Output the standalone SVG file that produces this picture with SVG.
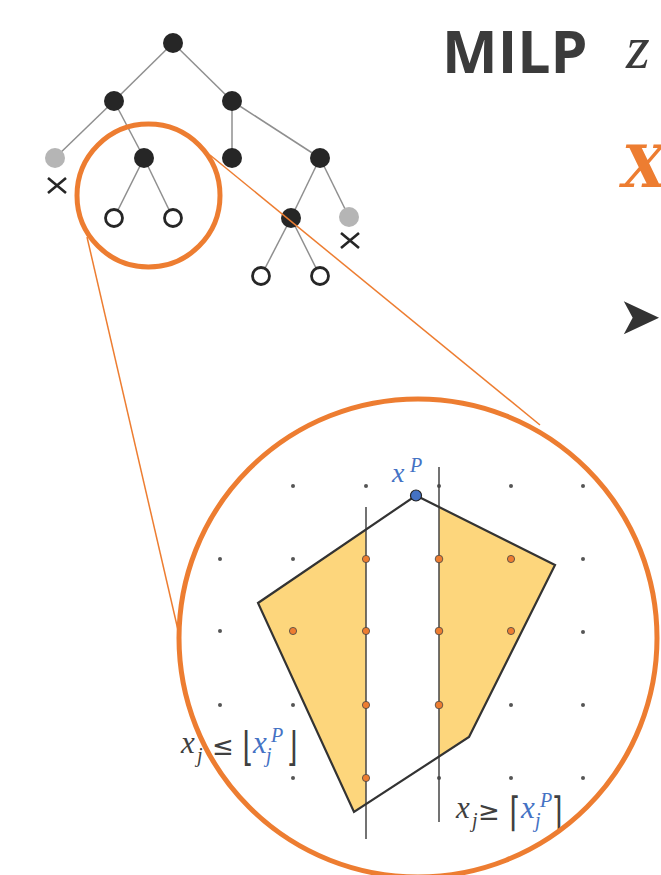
<svg xmlns="http://www.w3.org/2000/svg" width="661" height="875" viewBox="0 0 661 875">
<style>
.edge{stroke:#8f8f8f;stroke-width:1.5;fill:none}
.bn{fill:#262626}
.gn{fill:#b5b5b5}
.on{fill:#fff;stroke:#262626;stroke-width:2.8}
.cross{stroke:#262626;stroke-width:2.6;fill:none}
.zoomc{fill:none;stroke:#ED7D31;stroke-width:5}
.zl{stroke:#ED7D31;stroke-width:1.5;fill:none}
.gd{fill:#555}
.od{fill:#ED7D31;stroke:#444;stroke-width:0.8}
.vl{stroke:#444;stroke-width:1.5}
.fillr{fill:#FDD67C;stroke:none}
.poly{fill:none;stroke:#333;stroke-width:2.2;stroke-linejoin:miter}
.m{font-family:"Liberation Serif","DejaVu Serif",serif;font-style:italic}
.g{fill:#404040}
.b{fill:#4472C4}
.br{font-family:"DejaVu Sans",sans-serif;font-style:normal;fill:#404040}
</style>
<rect width="661" height="875" fill="#fff"/>

<g id="connectors">
  <line class="edge" x1="173" y1="43" x2="114" y2="101"/>
  <line class="edge" x1="173" y1="43" x2="232" y2="101"/>
  <line class="edge" x1="114" y1="101" x2="55" y2="158"/>
  <line class="edge" x1="114" y1="101" x2="144" y2="158"/>
  <line class="edge" x1="144" y1="158" x2="114" y2="218"/>
  <line class="edge" x1="144" y1="158" x2="173" y2="218"/>
  <line class="edge" x1="232" y1="101" x2="232" y2="158"/>
  <line class="edge" x1="232" y1="101" x2="320" y2="158"/>
  <line class="edge" x1="320" y1="158" x2="291" y2="218"/>
  <line class="edge" x1="320" y1="158" x2="349" y2="217"/>
  <line class="edge" x1="291" y1="218" x2="261" y2="276"/>
  <line class="edge" x1="291" y1="218" x2="320" y2="276"/>
</g>

<g id="tree-nodes">
  <g id="n-root"><circle class="bn" cx="173" cy="43" r="10"/></g>
  <g id="n-l"><circle class="bn" cx="114" cy="101" r="10"/></g>
  <g id="n-r"><circle class="bn" cx="232" cy="101" r="10"/></g>
  <g id="n-ll"><circle class="gn" cx="55" cy="158" r="10"/><path class="cross" d="M48,178 L66,193 M66,178 L48,193"/></g>
  <g id="n-lr"><circle class="bn" cx="144" cy="158" r="10"/></g>
  <g id="n-rl"><circle class="bn" cx="232" cy="158" r="10"/></g>
  <g id="n-rr"><circle class="bn" cx="320" cy="158" r="10"/></g>
  <g id="n-lrl"><circle class="on" cx="114" cy="218" r="8.5"/></g>
  <g id="n-lrr"><circle class="on" cx="173" cy="218" r="8.5"/></g>
  <g id="n-rrl"><circle class="bn" cx="291" cy="218" r="10"/></g>
  <g id="n-rrr"><circle class="gn" cx="349" cy="217" r="10"/><path class="cross" d="M341,233 L359,248 M359,233 L341,248"/></g>
  <g id="n-rrll"><circle class="on" cx="261" cy="276" r="8.5"/></g>
  <g id="n-rrlr"><circle class="on" cx="320" cy="276" r="8.5"/></g>
</g>

<g id="zoom-lines">
  <line class="zl" x1="87" y1="237" x2="178" y2="630"/>
  <line class="zl" x1="210" y1="155" x2="540" y2="425"/>
</g>

<g id="zoom-small"><circle class="zoomc" cx="148.5" cy="195.5" r="71.5"/></g>

<g id="lp-view">
  <polygon class="fillr" points="366,529 258,603 354,812 366,804"/>
  <polygon class="fillr" points="439,507 555,565 469,737 439,757"/>
  <g id="grid">
    <circle class="gd" cx="293" cy="486" r="2"/><circle class="gd" cx="366" cy="486" r="2"/><circle class="gd" cx="439" cy="486" r="2"/><circle class="gd" cx="511" cy="486" r="2"/><circle class="gd" cx="583" cy="486" r="2"/>
    <circle class="gd" cx="220" cy="559" r="2"/><circle class="gd" cx="293" cy="559" r="2"/><circle class="gd" cx="583" cy="559" r="2"/>
    <circle class="gd" cx="220" cy="631" r="2"/><circle class="gd" cx="583" cy="632" r="2"/>
    <circle class="gd" cx="220" cy="705" r="2"/><circle class="gd" cx="293" cy="705" r="2"/><circle class="gd" cx="511" cy="705" r="2"/><circle class="gd" cx="583" cy="705" r="2"/>
    <circle class="gd" cx="293" cy="778" r="2"/><circle class="gd" cx="439" cy="778" r="2"/><circle class="gd" cx="511" cy="778" r="2"/><circle class="gd" cx="583" cy="778" r="2"/>
  </g>
  <line class="vl" x1="366" y1="507" x2="366" y2="839"/>
  <line class="vl" x1="439" y1="467" x2="439" y2="822"/>
  <polygon class="poly" points="416,495.5 555,565 469,737 354,812 258,603"/>
  <g id="int-points">
    <circle class="od" cx="366" cy="559" r="3.6"/><circle class="od" cx="439" cy="559" r="3.8"/><circle class="od" cx="511" cy="559" r="3.6"/>
    <circle class="od" cx="293" cy="631" r="3.6"/><circle class="od" cx="366" cy="631" r="3.6"/><circle class="od" cx="439" cy="631" r="3.8"/><circle class="od" cx="511" cy="631" r="3.6"/>
    <circle class="od" cx="366" cy="705" r="3.6"/><circle class="od" cx="439" cy="705" r="3.8"/>
    <circle class="od" cx="366" cy="778" r="3.6"/>
  </g>
  <g id="xP"><circle cx="416" cy="495.5" r="5.5" fill="#4472C4" stroke="#222" stroke-width="1.2"/>
    <text class="m b" x="392" y="482" font-size="28">x</text><text class="m b" x="410" y="472" font-size="20">P</text></g>
  <g id="label-le">
    <text class="m g" x="181" y="753" font-size="31">x</text>
    <text class="m g" x="197" y="762" font-size="20">j</text>
    <text class="br" x="212" y="755" font-size="26">≤</text>
    <text class="br" transform="translate(242.5,761) scale(1,1.45)" font-size="28">⌊</text>
    <text class="m b" x="253" y="753" font-size="31">x</text>
    <text class="m b" x="271" y="742" font-size="20">P</text>
    <text class="m b" x="266" y="762" font-size="20">j</text>
    <text class="br" transform="translate(286.5,761) scale(1,1.45)" font-size="28">⌋</text>
  </g>
  <g id="label-ge">
    <text class="m g" x="456" y="818" font-size="31">x</text>
    <text class="m g" x="472" y="827" font-size="20">j</text>
    <text class="br" x="478" y="820" font-size="26">≥</text>
    <text class="br" transform="translate(509.5,826) scale(1,1.45)" font-size="28">⌈</text>
    <text class="m b" x="521" y="818" font-size="31">x</text>
    <text class="m b" x="540" y="807" font-size="20">P</text>
    <text class="m b" x="535" y="827" font-size="20">j</text>
    <text class="br" transform="translate(551.5,826) scale(1,1.45)" font-size="28">⌉</text>
  </g>
</g>

<g id="zoom-big"><circle class="zoomc" cx="418" cy="638" r="239"/></g>

<g id="title">
  <text x="442" y="73" font-family="'Open Sans',sans-serif" font-weight="bold" font-size="59" fill="#3b3b3b">MILP</text>
  <text class="m" x="626" y="68" font-size="61" fill="#3b3b3b">z</text>
  <text x="622" y="187" font-family="'DejaVu Serif',serif" font-style="italic" font-weight="bold" font-size="57" fill="#ED7D31">X</text>
  <text x="618" y="334" font-family="'DejaVu Sans',sans-serif" font-size="52" fill="#333">➤</text>
</g>
</svg>
